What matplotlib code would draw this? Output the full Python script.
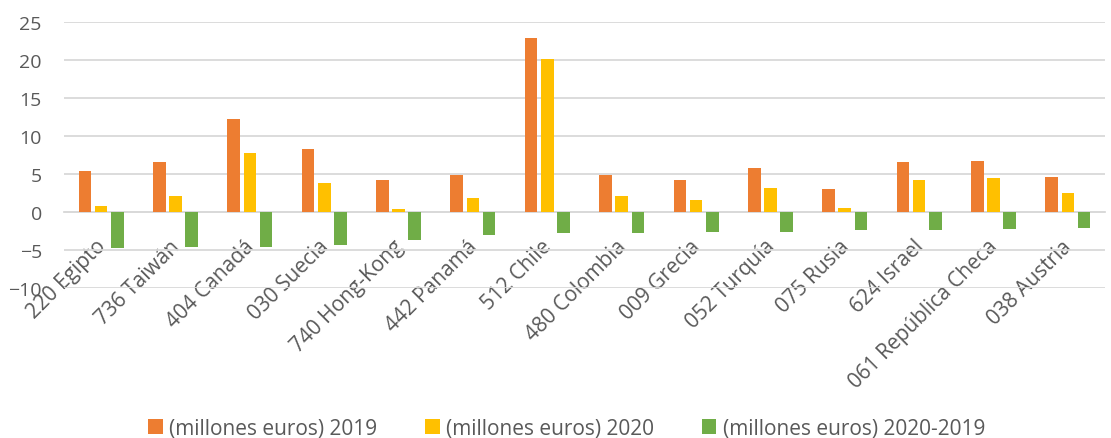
import numpy as np
import matplotlib
matplotlib.use('Agg')
import matplotlib.pyplot as plt
from matplotlib.transforms import ScaledTranslation

plt.rcParams['font.family'] = ['Open Sans', 'DejaVu Sans']

paises = ['220 Egipto', '736 Taiwán', '404 Canadá', '030 Suecia', '740 Hong-Kong',
          '442 Panamá', '512 Chile', '480 Colombia', '009 Grecia', '052 Turquía',
          '075 Rusia', '624 Israel', '061 República Checa', '038 Austria']
v2019 = [5.44, 6.58, 12.19, 8.25, 4.17, 4.82, 22.9, 4.87, 4.21, 5.75, 2.98, 6.58, 6.71, 4.6]
v2020 = [0.75, 2.06, 7.68, 3.82, 0.44, 1.8, 20.13, 2.06, 1.54, 3.16, 0.53, 4.21, 4.43, 2.5]
vdiff = [-4.7, -4.56, -4.56, -4.39, -3.68, -2.98, -2.8, -2.76, -2.68, -2.59, -2.41, -2.37, -2.24, -2.06]

series = ['(millones euros) 2019', '(millones euros) 2020', '(millones euros) 2020-2019']
colores = ['#ED7D31', '#FFC000', '#70AD47']

fig = plt.figure(figsize=(11.11, 4.39), dpi=100)
ax = fig.add_axes([64 / 1111, 0.3417, 1041 / 1111, 0.6066])

x = np.arange(len(paises))
w = 0.17
off = 0.218
for vals, dx, c, lab in zip([v2019, v2020, vdiff], [-off, 0, off], colores, series):
    ax.bar(x + dx, vals, width=w, color=c, label=lab, zorder=3)

ax.set_xlim(-0.5, len(paises) - 0.5)
ax.set_ylim(-10, 25)
ax.set_yticks(range(-10, 26, 5))
ax.yaxis.grid(True, color='#d9d9d9', linewidth=1.3, zorder=0)
for s in ['top', 'right', 'left']:
    ax.spines[s].set_visible(False)
ax.spines['bottom'].set_position(('data', 0))
ax.spines['bottom'].set_color('#d9d9d9')
ax.spines['bottom'].set_linewidth(1.3)
ax.spines['bottom'].set_zorder(2)

ax.set_xticks(x)
ax.set_xticklabels(paises, rotation=45, ha='right', rotation_mode='anchor')
ax.tick_params(axis='x', length=0, pad=17, labelsize=15, labelcolor='#595959')
ax.tick_params(axis='y', length=0, pad=16, labelsize=14, labelcolor='#595959')
# nudge the rotated labels a little to the left, like Excel places them
shift = ScaledTranslation(-0.06, 0, fig.dpi_scale_trans)
for lbl in ax.get_xticklabels():
    lbl.set_transform(lbl.get_transform() + shift)

fig.legend(loc='center', bbox_to_anchor=(0.51, 0.022), ncol=3, frameon=False,
           fontsize=15, labelcolor='#595959', handlelength=0.7, handleheight=0.7,
           handletextpad=0.3, columnspacing=2.3)

fig.savefig('out.png', dpi=100)
